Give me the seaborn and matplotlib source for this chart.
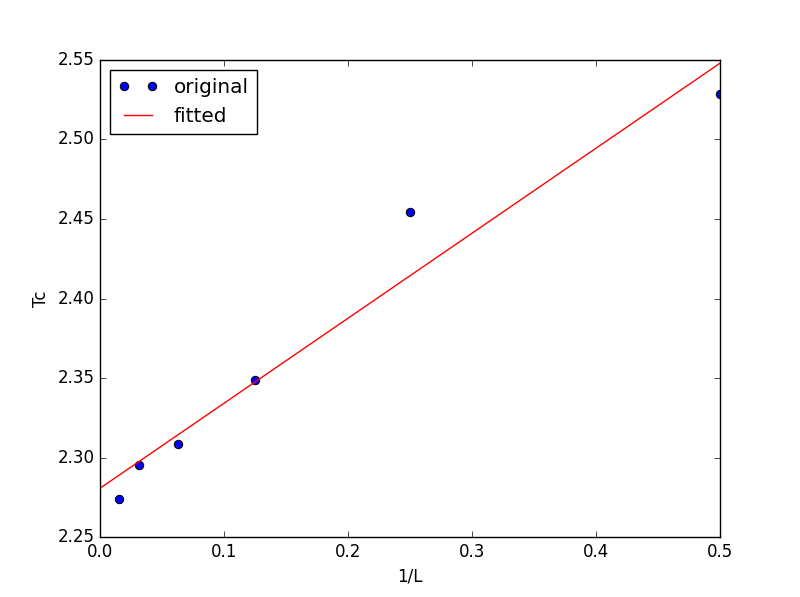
import matplotlib
matplotlib.use("Agg")
import matplotlib.pyplot as plt
import seaborn as sns
import pandas as pd

# data
inv_L = [0.015625, 0.03125, 0.0625, 0.125, 0.25, 0.5]
tc = [2.2739, 2.2953, 2.3085, 2.3489, 2.4543, 2.5286]
fit_x = [0.0, 0.5]
fit_y = [2.2808, 2.5478]

plt.style.use("classic")
plt.rcParams["font.family"] = ["DejaVu Sans"]

fig, ax = plt.subplots(figsize=(8, 5.97), dpi=100)
fig.patch.set_facecolor("white")

df = pd.DataFrame({"x": inv_L, "y": tc})
dfit = pd.DataFrame({"x": fit_x, "y": fit_y})

sns.lineplot(data=df, x="x", y="y", ax=ax, marker="o", linestyle="",
             color="blue", markeredgecolor="black", markersize=6,
             label="original", sort=False, errorbar=None)
sns.lineplot(data=dfit, x="x", y="y", ax=ax, color="red", linewidth=1,
             label="fitted", sort=False, errorbar=None)

ax.set_xlim(0.0, 0.5)
ax.set_ylim(2.25, 2.55)
ax.set_xticks([0.0, 0.1, 0.2, 0.3, 0.4, 0.5])
ax.set_yticks([2.25, 2.30, 2.35, 2.40, 2.45, 2.50, 2.55])
ax.set_xlabel("1/L")
ax.set_ylabel("Tc")
ax.legend(loc="upper left", numpoints=2)

fig.savefig("out.png", dpi=100, facecolor="white")
